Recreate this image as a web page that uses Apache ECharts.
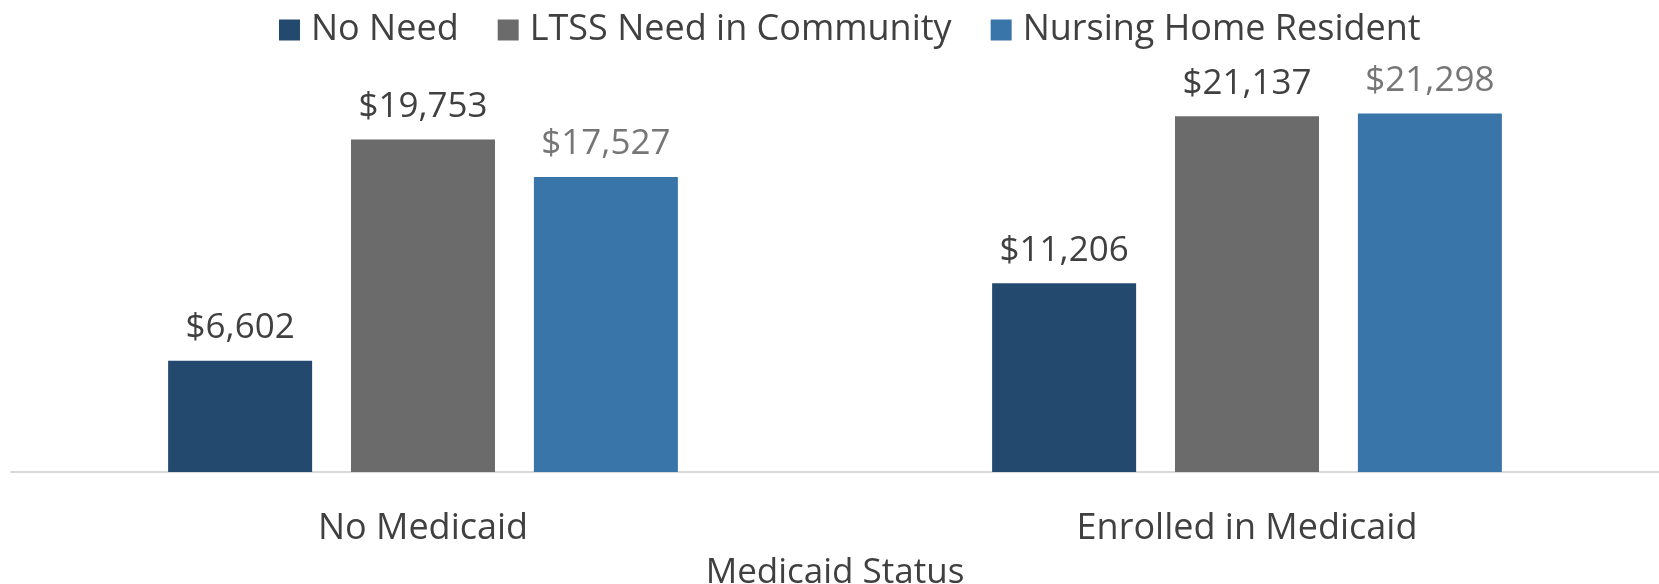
<!DOCTYPE html>
<html>
<head>
<meta charset="utf-8">
<script src="https://cdn.jsdelivr.net/npm/echarts@6/dist/echarts.min.js"></script>
<style>
html,body{margin:0;padding:0;background:#fff;}
#chart{width:1659px;height:584px;}
</style>
</head>
<body>
<div id="chart"></div>
<script>
var categories = ['No Medicaid', 'Enrolled in Medicaid'];
var seriesNames = ['No Need', 'LTSS Need in Community', 'Nursing Home Resident'];
var noNeed = [6602, 11206];
var ltssCommunity = [19753, 21137];
var nursingHome = [17527, 21298];
var axisTitle = 'Medicaid Status';

var FONT = 'Open Sans';
var colors = ['#234A6E', '#6B6B6B', '#3A75AA'];
var labelColors = ['#404040', '#404040', '#767676'];

function fmt(v){ return '$' + v.toLocaleString('en-US'); }

function mk(name, data, i){
  return {
    name: name, type: 'bar', data: data,
    barWidth: 144, barGap: '27%',
    itemStyle: {color: colors[i]},
    label: {show: true, position: 'top', distance: 15,
      formatter: function(p){ return fmt(p.value); },
      color: labelColors[i], fontFamily: FONT, fontSize: 35},
    emphasis: {disabled: true}
  };
}

var chart = echarts.init(document.getElementById('chart'), null, {renderer: 'canvas'});
chart.setOption({
  animation: false,
  backgroundColor: '#fff',
  legend: {
    data: seriesNames, top: 7, left: 274,
    itemWidth: 21, itemHeight: 21, itemGap: 39,
    icon: 'rect',
    textStyle: {fontFamily: FONT, fontSize: 36, color: '#404040', padding: [0,0,0,6]}
  },
  grid: {left: 11, right: 0, top: 68, bottom: 112, containLabel: false, outerBoundsMode: 'none'},
  xAxis: {
    type: 'category', data: categories,
    name: axisTitle, nameLocation: 'middle', nameGap: 84,
    nameTextStyle: {fontFamily: FONT, fontSize: 35, color: '#404040'},
    axisLine: {lineStyle: {color: '#D9D9D9', width: 2}},
    axisTick: {show: false},
    axisLabel: {fontFamily: FONT, fontSize: 36, color: '#404040', margin: 39}
  },
  yAxis: {type: 'value', min: 0, max: 24000, show: false, splitLine: {show: false}},
  series: [mk(seriesNames[0], noNeed, 0), mk(seriesNames[1], ltssCommunity, 1), mk(seriesNames[2], nursingHome, 2)]
});
</script>
</body>
</html>
